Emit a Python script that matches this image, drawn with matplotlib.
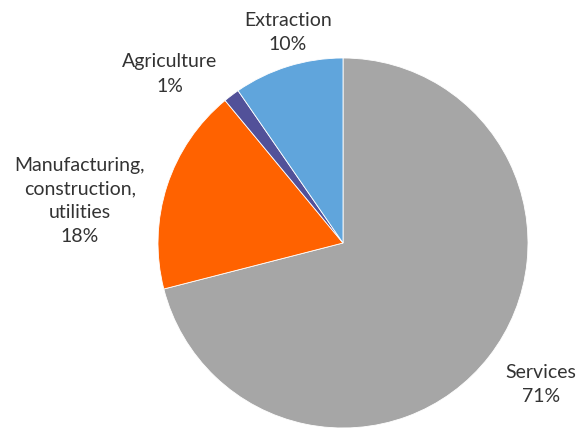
import matplotlib.pyplot as plt

labels = ['Services', 'Manufacturing,\nconstruction,\nutilities', 'Agriculture', 'Extraction']
pct_labels = ['71%', '18%', '1%', '10%']
values = [71.0, 18.0, 1.4, 9.6]
colors = ['#A6A6A6', '#FF6200', '#525199', '#60A5DC']

# label anchor positions (pixels from top-left)
label_pos = [(541, 385), (80, 201), (170, 74), (288, 32)]

fig = plt.figure(figsize=(5.79, 4.30), dpi=100)
ax = fig.add_axes([0, 0, 1, 1])
ax.set_xlim(0, 579)
ax.set_ylim(0, 430)
ax.set_aspect('equal')
ax.axis('off')

ax.pie(values, colors=colors, startangle=90, counterclock=False,
       center=(343, 430 - 243), radius=185,
       wedgeprops=dict(linewidth=0.6, edgecolor='white'))
ax.set_xlim(0, 579)
ax.set_ylim(0, 430)

for lab, pct, (x, y) in zip(labels, pct_labels, label_pos):
    ax.text(x, 430 - y, lab + '\n' + pct, ha='center', va='center',
            fontsize=14, color='#333333', linespacing=1.5, family='Lato')

fig.savefig('out.png', dpi=100)
